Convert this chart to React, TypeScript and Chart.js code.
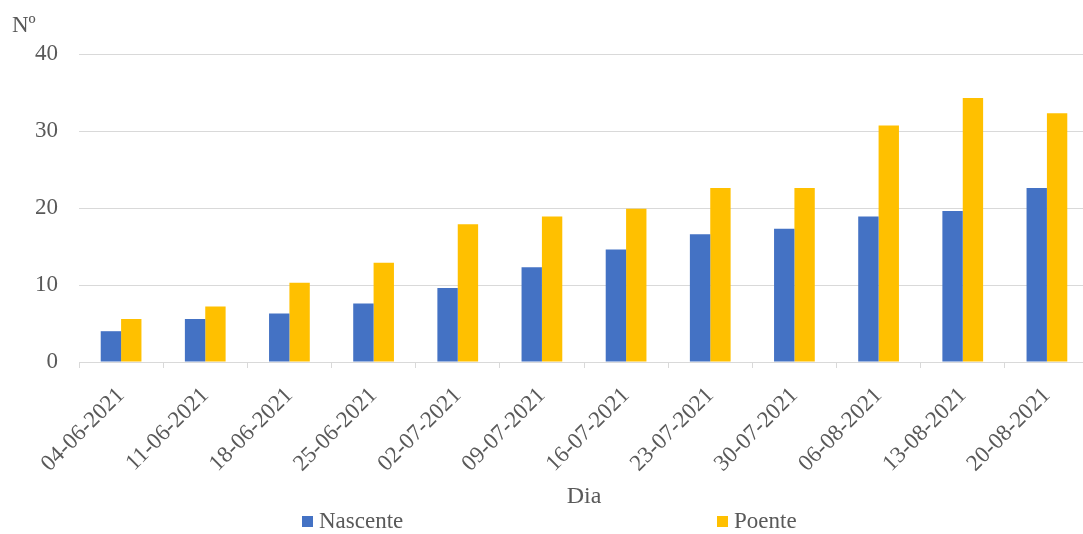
import React, { useEffect, useRef } from "react";
import { Chart, registerables } from "chart.js";

Chart.register(...registerables);

const categories = [
  "04-06-2021",
  "11-06-2021",
  "18-06-2021",
  "25-06-2021",
  "02-07-2021",
  "09-07-2021",
  "16-07-2021",
  "23-07-2021",
  "30-07-2021",
  "06-08-2021",
  "13-08-2021",
  "20-08-2021",
];
const nascente = [4.0, 5.6, 6.3, 7.6, 9.6, 12.3, 14.6, 16.6, 17.3, 18.9, 19.6, 22.6];
const poente = [5.6, 7.2, 10.3, 12.9, 17.9, 18.9, 19.9, 22.6, 22.6, 30.7, 34.3, 32.3];
const seriesNames = ["Nascente", "Poente"];
const yTitle = "Nº";
const xTitle = "Dia";

const FONT = "'Liberation Serif', 'Times New Roman', serif";
const TEXT = "#595959";
const GRID = "#d9d9d9";
const BLUE = "#4472C4";
const YELLOW = "#FFC000";

export default function App() {
  const ref = useRef<HTMLCanvasElement>(null);

  useEffect(() => {
    if (!ref.current) return;
    const legendX = [302, 717];
    const overlay = {
      id: "excelOverlay",
      afterDraw(chart: any) {
        const ctx = chart.ctx as CanvasRenderingContext2D;
        ctx.save();
        ctx.font = `23px ${FONT}`;
        ctx.textBaseline = "middle";
        ctx.textAlign = "left";
        chart.data.datasets.forEach((ds: any, i: number) => {
          const x = legendX[i];
          ctx.fillStyle = ds.backgroundColor;
          ctx.fillRect(x, 516, 11, 11);
          ctx.fillStyle = TEXT;
          ctx.fillText(ds.label, x + 17, 522);
        });
        ctx.font = `23px ${FONT}`;
        ctx.textBaseline = "alphabetic";
        ctx.fillStyle = TEXT;
        ctx.fillText(yTitle, 12, 32);
        ctx.restore();
      },
    };

    const chart = new Chart(ref.current, {
      type: "bar",
      data: {
        labels: categories,
        datasets: [
          {
            label: seriesNames[0],
            data: nascente,
            backgroundColor: BLUE,
            categoryPercentage: 0.484,
            barPercentage: 1,
          },
          {
            label: seriesNames[1],
            data: poente,
            backgroundColor: YELLOW,
            categoryPercentage: 0.484,
            barPercentage: 1,
          },
        ],
      },
      options: {
        responsive: false,
        animation: false,
        layout: { padding: { top: 54, right: 11, left: 0, bottom: 0 } },
        plugins: {
          legend: { display: false },
          tooltip: { enabled: false },
          title: { display: false },
        },
        scales: {
          x: {
            grid: {
              display: true,
              drawOnChartArea: false,
              drawTicks: true,
              tickLength: 6,
              color: GRID,
              offset: true,
            },
            border: { display: true, color: GRID, width: 1 },
            ticks: {
              minRotation: 45,
              maxRotation: 45,
              autoSkip: false,
              padding: 14,
              labelOffset: 0,
              color: TEXT,
              font: { family: FONT, size: 23 },
            },
            title: {
              display: true,
              text: xTitle,
              color: TEXT,
              font: { family: FONT, size: 24 },
              padding: { top: 0, bottom: 23 },
            },
            afterFit: (s: any) => {
              s.height = 172;
            },
          },
          y: {
            min: 0,
            max: 40,
            ticks: {
              stepSize: 10,
              padding: 21,
              color: TEXT,
              font: { family: FONT, size: 23 },
            },
            grid: { color: GRID, drawTicks: false },
            border: { display: false },
            afterFit: (s: any) => {
              s.width = 79;
            },
          },
        },
      },
      plugins: [overlay],
    });
    return () => chart.destroy();
  }, []);

  return (
    <div
      style={{
        position: "fixed",
        left: 0,
        top: 0,
        width: 1083,
        height: 534,
        overflow: "hidden",
        background: "#fff",
      }}
    >
      <canvas ref={ref} width={1100} height={534} style={{ display: "block" }} />
    </div>
  );
}
